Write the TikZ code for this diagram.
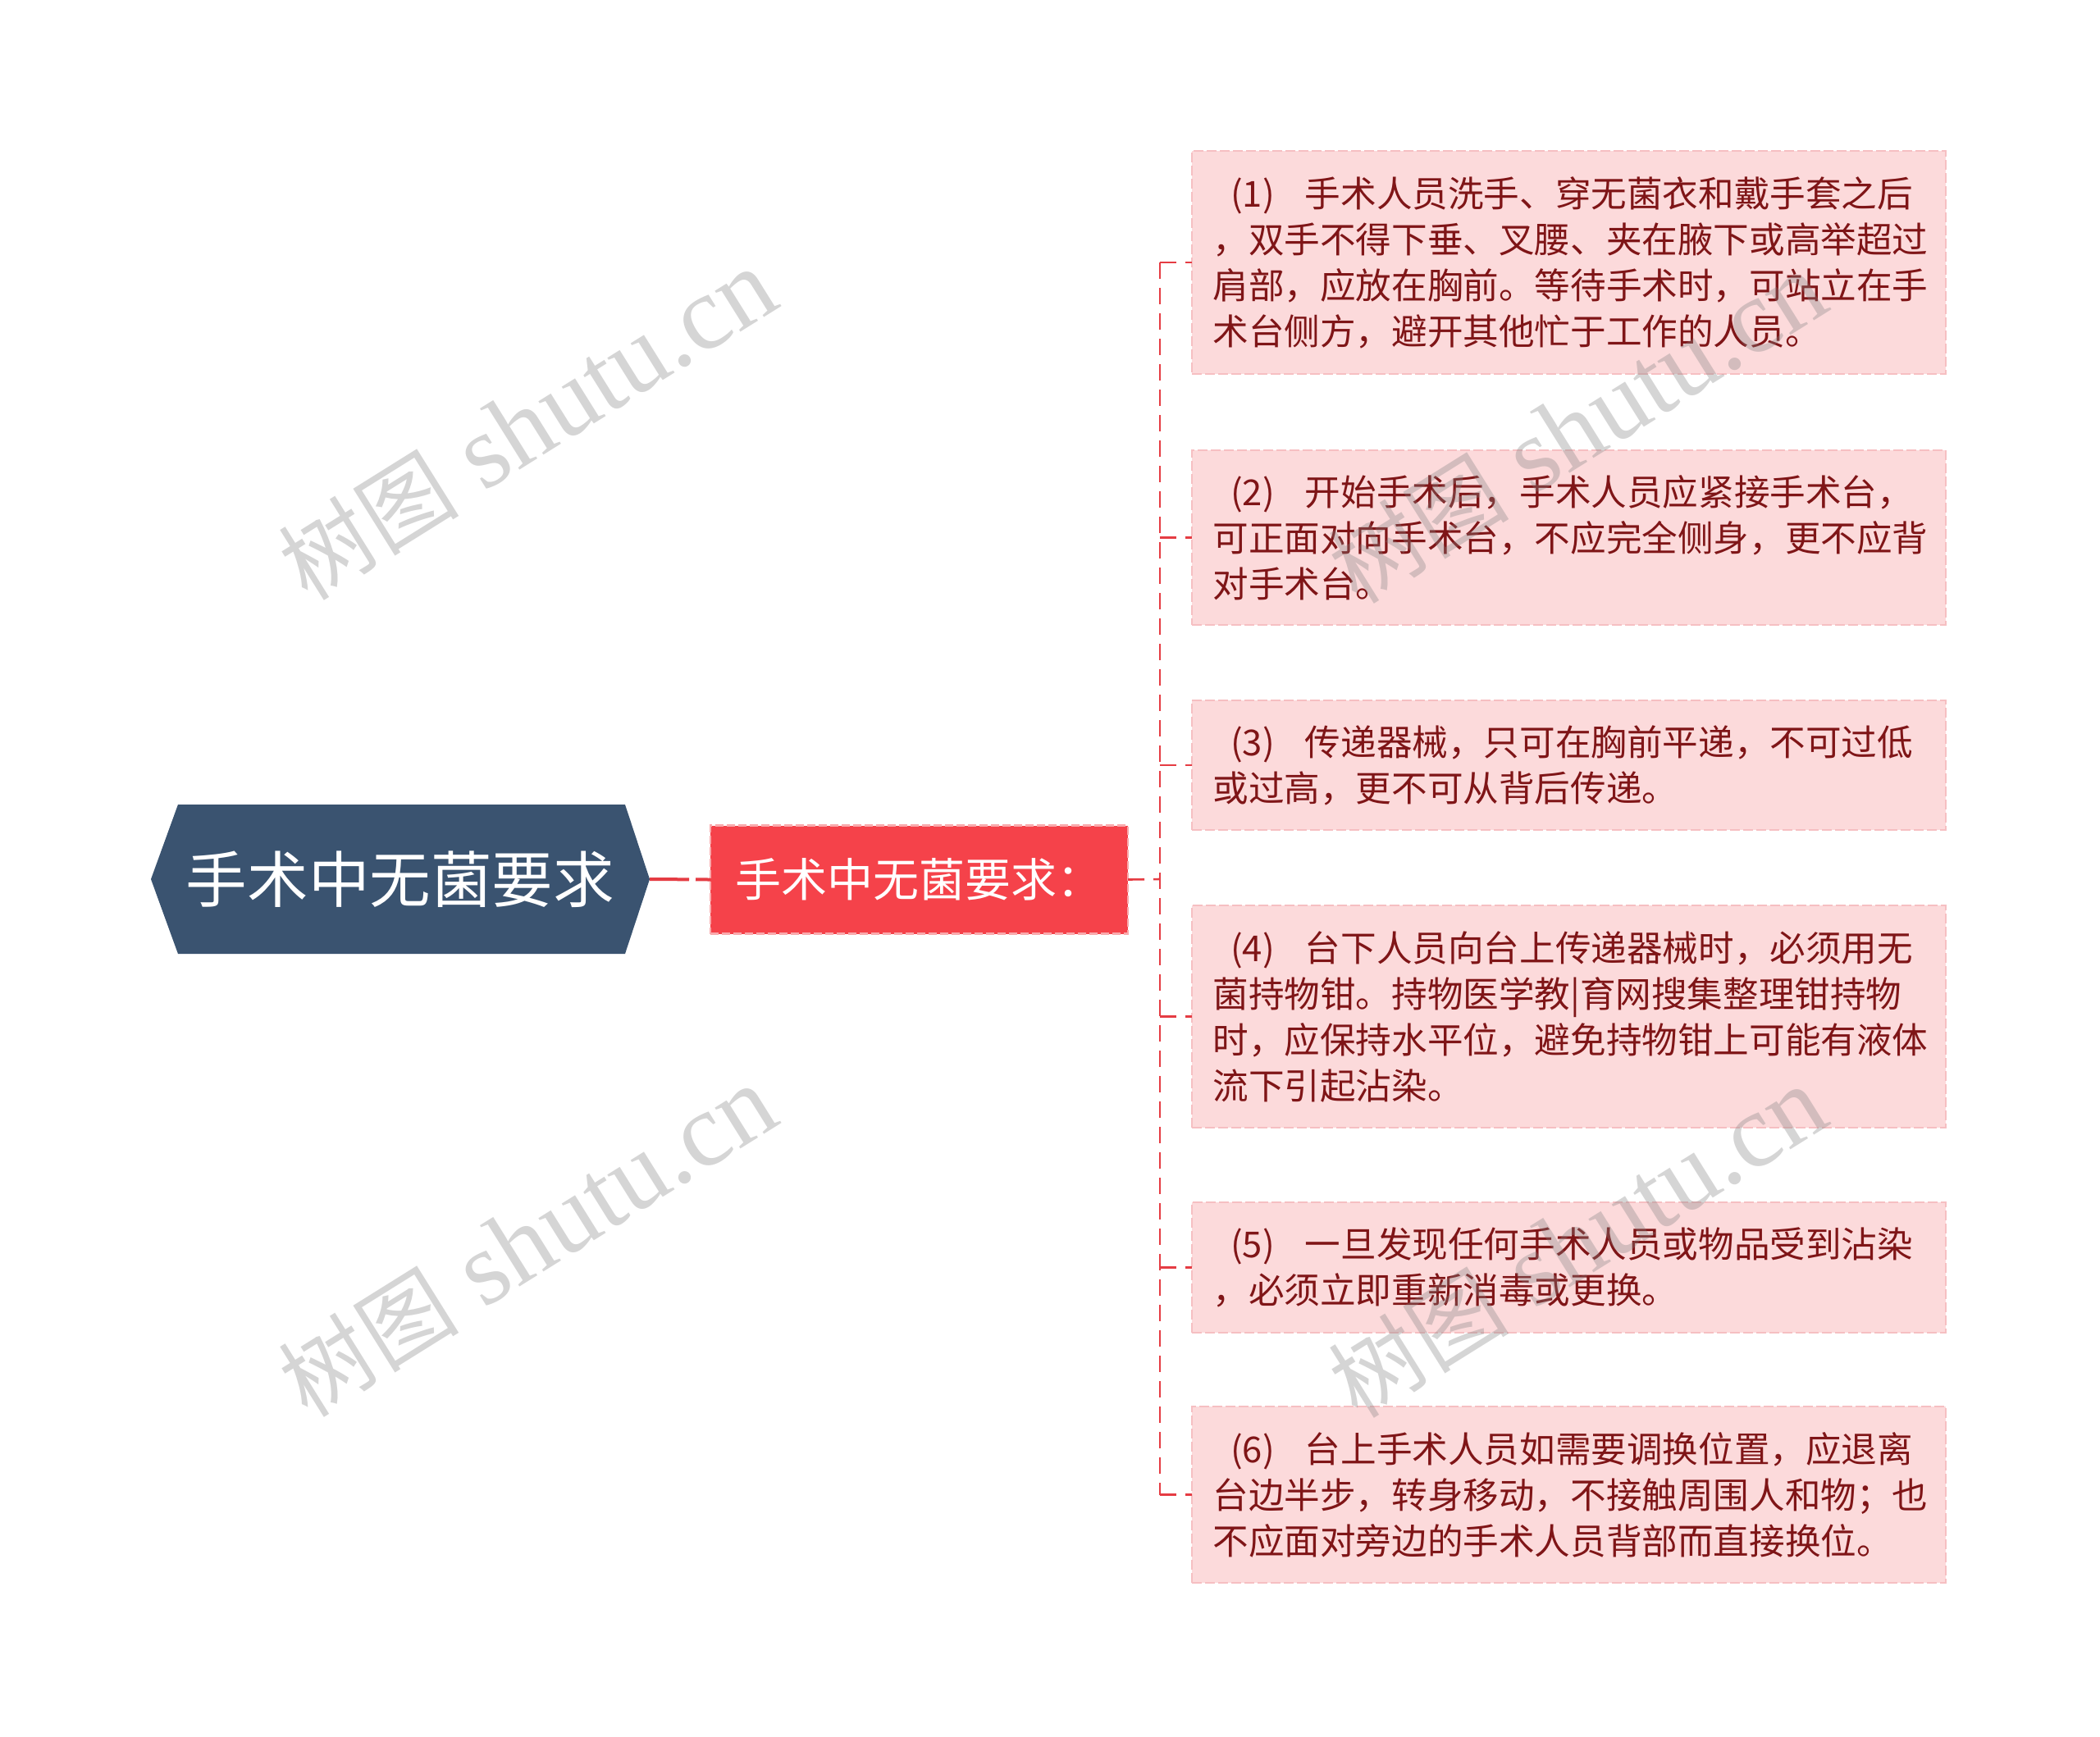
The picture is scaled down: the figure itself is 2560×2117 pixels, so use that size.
\documentclass[tikz,border=0pt]{standalone}
\usepackage{fontspec}
\setmainfont{Noto Sans CJK SC}
\newfontfamily\wmcjk{Noto Sans CJK SC}
\newfontfamily\wmlatin{Liberation Serif}
\definecolor{rootfill}{HTML}{3A5370}
\definecolor{subfill}{HTML}{F5424A}
\definecolor{subborder}{HTML}{F9A9AC}
\definecolor{linkred}{HTML}{E53C43}
\definecolor{leaffill}{HTML}{FCDADB}
\definecolor{leafborder}{HTML}{F6BFC2}
\definecolor{leafink}{HTML}{7F1517}
\newcommand{\lead}[1]{\hspace{0.5em}(#1)\hspace{0.85em}}
\newcommand{\wmtext}{{\fontsize{55pt}{55pt}\selectfont\wmcjk 树图}\hspace{16pt}{\fontsize{64pt}{64pt}\selectfont\wmlatin shutu.cn}}
\begin{document}
\begin{tikzpicture}[x=0.5pt,y=-0.5pt,
  link/.style={draw=linkred, line width=1.3pt, dash pattern=on 10pt off 5.5pt},
  leafbox/.style={fill=leaffill, draw=leafborder, line width=1.2pt, dash pattern=on 6pt off 2pt, minimum width=459.5pt, inner sep=0pt, outer sep=0pt},
  leaftext/.style={text=leafink, font=\fontsize{21.8pt}{28pt}\selectfont, align=left, inner sep=0pt, anchor=west},
  wm/.style={text=gray, opacity=0.33, rotate=32, inner sep=0pt}
]
\useasboundingbox (0,0) rectangle (2560,2117);
\fill[white] (0,0) rectangle (2560,2117);

% root hexagon
\fill[rootfill] (184,1072) -- (217,981) -- (762,981) -- (792,1072) -- (762,1163) -- (217,1163) -- cycle;
\node[minimum width=304pt, minimum height=91pt, inner sep=0pt, outer sep=0pt, text=white, font=\fontsize{37.3pt}{40pt}\selectfont] (root) at (488,1072) {手术中无菌要求};

% second level
\node[fill=subfill, draw=subborder, dash pattern=on 5pt off 2pt, line width=1.2pt, minimum width=254.5pt, minimum height=66pt, inner sep=0pt, outer sep=0pt, text=white, font=\fontsize{28pt}{30pt}\selectfont] (sub) at (1120.5,1072.5) {手术中无菌要求：};

% leaves
\node[leafbox, minimum height=136pt] (c1) at (1912.5,320) {};
\node[leafbox, minimum height=106.5pt] (c2) at (1912.5,655.5) {};
\node[leafbox, minimum height=79pt] (c3) at (1912.5,933) {};
\node[leafbox, minimum height=135.5pt] (c4) at (1912.5,1239.5) {};
\node[leafbox, minimum height=79.5pt] (c5) at (1912.5,1545.5) {};
\node[leafbox, minimum height=107.5pt] (c6) at (1912.5,1822.5) {};

\node[leaftext] (t1) at ([xshift=12.5pt]c1.west) {\lead{1}手术人员洗手、穿无菌衣和戴手套之后\\，双手不得下垂、叉腰、夹在腋下或高举超过\\肩部，应放在胸前。等待手术时，可站立在手\\术台侧方，避开其他忙于工作的人员。};
\node[leaftext] (t2) at ([xshift=12.5pt]c2.west) {\lead{2}开始手术后，手术人员应紧接手术台，\\可正面对向手术台，不应完全侧身，更不应背\\对手术台。};
\node[leaftext] (t3) at ([xshift=12.5pt]c3.west) {\lead{3}传递器械，只可在胸前平递，不可过低\\或过高，更不可从背后传递。};
\node[leaftext] (t4) at ([xshift=12.5pt]c4.west) {\lead{4}台下人员向台上传递器械时，必须用无\\菌持物钳。持物医学教|育网搜集整理钳持物\\时，应保持水平位，避免持物钳上可能有液体\\流下引起沾染。};
\node[leaftext] (t5) at ([xshift=12.5pt]c5.west) {\lead{5}一旦发现任何手术人员或物品受到沾染\\，必须立即重新消毒或更换。};
\node[leaftext] (t6) at ([xshift=12.5pt]c6.west) {\lead{6}台上手术人员如需要调换位置，应退离\\台边半步，转身移动，不接触周围人和物；也\\不应面对旁边的手术人员背部而直接换位。};

% connectors
\coordinate (jn) at (1414,1072);
\draw[draw=linkred, line width=2pt, dash pattern=on 24pt off 4pt] (root.east) -- (sub.west);
\draw[link] (sub.east) -- (jn);
\draw[link] (jn |- c1.west) -- (jn |- c6.west);
\foreach \c in {c1,c2,c3,c4,c5,c6}{
  \draw[link] (jn |- \c.west) -- (\c.west);
}

% watermarks
\node[wm] (wm1) at (643,518) {\wmtext};
\node[wm] (wm2) at (643,1514) {\wmtext};
\node[wm] (wm3) at (1923,522) {\wmtext};
\node[wm] (wm4) at (1923,1515) {\wmtext};
\end{tikzpicture}
\end{document}
